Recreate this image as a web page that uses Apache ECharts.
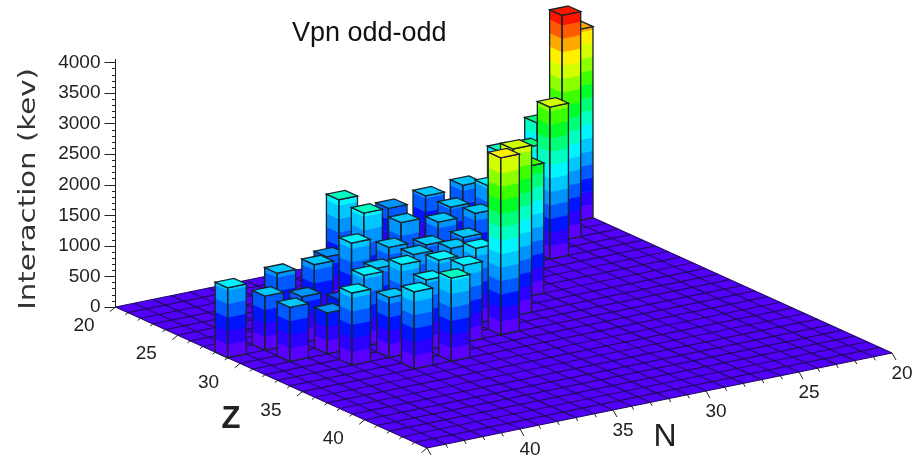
<!DOCTYPE html>
<html><head><meta charset="utf-8">
<style>html,body{margin:0;padding:0;background:#fff}#c{width:913px;height:459px}</style>
<script src="https://cdn.jsdelivr.net/npm/echarts@6/dist/echarts.min.js"></script>
</head><body><div id="c"></div>
<script>
// data: lego bins (lower bin edge) and bar heights
const zBins = [20,22,24,28,30,32,20,20,22,22,20,20,22,24,20,24,26,24,26,28,30,22,24,26,28,30,32,24,26,28,30,32,34,26,28,30,32,34,26,28,30,32,28,30,28];
const nBins = [20,22,24,28,30,32,22,24,24,26,26,28,28,28,30,30,30,32,32,32,32,34,34,34,34,34,34,36,36,36,36,36,36,38,38,38,38,38,40,40,40,40,42,42,44];
const interaction = [3126,3680,2490,2130,2730,2895,1735,1390,1640,1145,965,915,915,1000,835,980,915,1095,915,1045,1230,1410,1375,1000,1065,1160,1260,785,1195,965,1210,1145,1360,965,570,1160,980,1260,950,750,670,1180,885,885,1145];
const zTickLabels = [20,25,30,35,40];
const nTickLabels = [20,25,30,35,40];
const yTickValues = [0,500,1000,1500,2000,2500,3000,3500,4000];
const bandPalette = ['#5a00ff','#2c00ff','#0014ff','#0058ff','#0094ff','#00c8ff','#00f5ff','#00ffc0','#00ff78','#00ff28','#3cff00','#8cff00','#d2ff00','#fff000','#ffa800','#ff5a00','#ff1400'];
const bandValue = 220;
const floorColor = '#5200fa', floorLine = '#220a66', edgeColor = '#18242c', inkColor = '#222';

// oblique view of the Z-N floor
const zMin = 20, zMax = 45, nMin = 20, nMax = 45;
const origin = [580.5, 212], zStep = [12.46, 5.64], nStep = [-18.6, 3.8];
function floorPt(z, n, lift) {
  const s = z - zMin, t = n - nMin;
  return [origin[0] + zStep[0]*s + nStep[0]*t, origin[1] + zStep[1]*s + nStep[1]*t - (lift || 0)];
}
const order = zBins.map((_, i) => i).sort((p, q) => (zBins[p] + nBins[p]) - (zBins[q] + nBins[q]));
const barData = order.map(i => [zBins[i], nBins[i], interaction[i]]);

function renderFloor() {
  const kids = [{type:'polygon', shape:{points:[floorPt(zMin,nMin),floorPt(zMax,nMin),floorPt(zMax,nMax),floorPt(zMin,nMax)]}, style:{fill:floorColor}}];
  const ln = (p, q, c, w) => kids.push({type:'line', shape:{x1:p[0],y1:p[1],x2:q[0],y2:q[1]}, style:{stroke:c, lineWidth:w}});
  for (let z = zMin; z <= zMax; z++) ln(floorPt(z,nMin), floorPt(z,nMax), floorLine, 1.2);
  for (let n = nMin; n <= nMax; n++) ln(floorPt(zMin,n), floorPt(zMax,n), floorLine, 1.2);
  for (let z = zMin; z <= zMax; z++) {
    const p = floorPt(z,nMax), k = (z - zMin) % 5 === 0 ? 1 : 0.5;
    ln(p, [p[0]-5.5*k, p[1]+4.5*k], inkColor, 1);
  }
  for (let n = nMin; n <= nMax; n++) {
    const p = floorPt(zMax,n), k = (n - nMin) % 5 === 0 ? 1 : 0.5;
    ln(p, [p[0]+4*k, p[1]+7*k], inkColor, 1);
  }
  const txt = (s, x, y) => kids.push({type:'text', style:{text:String(s), x, y, align:'center', verticalAlign:'middle', font:'19px "Liberation Sans"', fill:inkColor}});
  zTickLabels.forEach(v => { const p = floorPt(v,nMax); txt(v, p[0]-31.5, p[1]+19); });
  nTickLabels.forEach(v => { const p = floorPt(zMax,v); txt(v, p[0]+10, p[1]+21); });
  return {type:'group', children:kids};
}

function renderBar(params, api) {
  const z = api.value(0), n = api.value(1), v = api.value(2);
  const kids = [];
  const poly = (pts, fill, stroke, w) => kids.push({type:'polygon', shape:{points:pts}, style:{fill:fill, stroke:stroke, lineWidth:w}});
  const px = val => api.size([0, val])[1];
  const F = [z+1,n+1], Lf = [z,n+1], R = [z+1,n], B = [z,n];
  const at = (c, h) => floorPt(c[0], c[1], h);
  const top = px(v);
  const nb = Math.floor(v / bandValue);
  for (let i = 0; i <= nb; i++) {
    const h0 = px(i*bandValue), h1 = Math.min(px((i+1)*bandValue), top);
    const c = bandPalette[Math.min(i, bandPalette.length-1)];
    poly([at(Lf,h0),at(F,h0),at(F,h1),at(Lf,h1)], c, c, 0.5);
    poly([at(F,h0),at(R,h0),at(R,h1),at(F,h1)], c, c, 0.5);
  }
  poly([at(Lf,0),at(F,0),at(F,top),at(Lf,top)], 'none', edgeColor, 1.3);
  poly([at(F,0),at(R,0),at(R,top),at(F,top)], 'none', edgeColor, 1.3);
  const topBand = nb < 12 ? nb + 1 : nb;
  poly([at(B,top),at(R,top),at(F,top),at(Lf,top)], bandPalette[Math.min(topBand, bandPalette.length-1)], edgeColor, 1.3);
  return {type:'group', children:kids};
}

const chart = echarts.init(document.getElementById('c'), null, {renderer:'canvas'});
chart.setOption({
  animation:false,
  backgroundColor:'#fff',
  title:{text:'Vpn odd-odd', left:287, top:15, textStyle:{fontFamily:'Liberation Sans', fontWeight:'normal', fontSize:27, color:'#111'}},
  grid:{left:115.5, top:59.5, width:700, height:247.5},
  xAxis:{type:'value', min:zMin, max:zMax, show:false},
  yAxis:{type:'value', min:0, max:4050, interval:500, splitLine:{show:false},
    axisLine:{show:true, lineStyle:{color:inkColor, width:1}},
    axisTick:{show:true, length:11, customValues:yTickValues, lineStyle:{color:inkColor}},
    minorTick:{show:true, splitNumber:5, length:3.5, lineStyle:{color:inkColor}},
    axisLabel:{margin:15, customValues:yTickValues, formatter:v => String(v), fontFamily:'Liberation Sans', fontSize:19, color:inkColor}},
  graphic:[
    {type:'text', rotation:Math.PI/2, scaleX:1.27, x:29, y:189, style:{text:'Interaction (kev)', align:'center', verticalAlign:'middle', font:'23px "DejaVu Sans"', fill:'#333'}},
    {type:'text', x:231, y:419, style:{text:'Z', align:'center', verticalAlign:'middle', font:'bold 31px "Liberation Sans"', fill:inkColor}},
    {type:'text', x:665, y:437, style:{text:'N', align:'center', verticalAlign:'middle', font:'32px "Liberation Sans"', fill:inkColor}}
  ],
  series:[
    {type:'custom', coordinateSystem:'cartesian2d', silent:true, clip:false, z:1, data:[[zMin,0]], encode:{x:0,y:1}, renderItem:renderFloor},
    {type:'custom', coordinateSystem:'cartesian2d', silent:true, clip:false, z:2, data:barData, encode:{x:0,y:2}, renderItem:renderBar}
  ]
});
</script></body></html>
